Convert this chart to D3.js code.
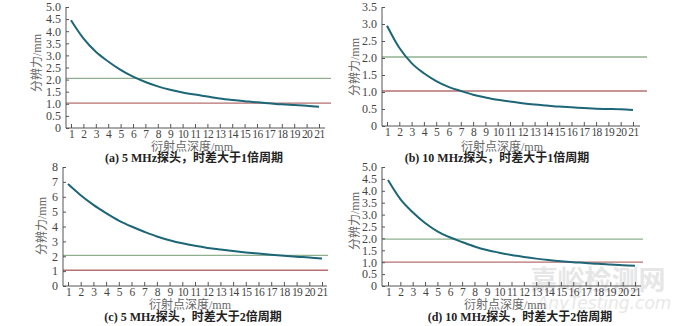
<!DOCTYPE html>
<html><head><meta charset="utf-8">
<script src="https://cdn.jsdelivr.net/npm/d3@7"></script>
<style>
body{margin:0;background:#fff;}
svg{display:block;}
text{font-family:"Liberation Serif","DejaVu Serif",serif;}
.cjk{font-family:"Liberation Serif","Noto Sans CJK SC",serif;}
</style></head>
<body>
<svg id="c" width="680" height="326"></svg>
<script>
const depths = d3.range(1, 22);
const resA = [4.45,3.7,3.15,2.75,2.4,2.12,1.9,1.72,1.58,1.47,1.38,1.3,1.22,1.16,1.11,1.06,1.02,0.98,0.95,0.92,0.88];
const resB = [2.95,2.3,1.85,1.55,1.32,1.15,1.03,0.92,0.84,0.77,0.72,0.67,0.63,0.6,0.57,0.55,0.53,0.51,0.5,0.49,0.47];
const resC = [6.85,6.1,5.45,4.9,4.4,4.0,3.65,3.33,3.08,2.87,2.7,2.56,2.45,2.35,2.26,2.18,2.1,2.03,1.97,1.92,1.85];
const resD = [4.45,3.65,3.1,2.65,2.3,2.05,1.85,1.66,1.51,1.4,1.3,1.22,1.15,1.09,1.04,1.0,0.97,0.93,0.9,0.87,0.85];
const greenLevels = [2.05, 2.03, 2.06, 1.97];
const redLevels = [1.03, 1.03, 1.06, 1.0];
const yTicksA = [0,0.5,1.0,1.5,2.0,2.5,3.0,3.5,4.0,4.5,5.0];
const yTicksB = [0,0.5,1.0,1.5,2.0,2.5,3.0,3.5];
const yTicksC = [0,1,2,3,4,5,6,7,8];
const yTicksD = [0,0.5,1.0,1.5,2.0,2.5,3.0,3.5,4.0,4.5,5.0];
const captions = ["(a) 5 MHz探头，时差大于1倍周期","(b)  10 MHz探头，时差大于1倍周期","(c) 5 MHz探头，时差大于2倍周期","(d)  10 MHz探头，时差大于2倍周期"];
const yTitle = "分辨力/mm";
const xTitle = "衍射点深度/mm";

const panels = [
  {vals:resA, ticks:yTicksA, fmt:d=>d===0?"0":d.toFixed(1), ymax:5, axX:66, x1:71, x21:319, axEnd:325, lineEnd:331, y0:128, yTop:7, ytX:37, ytY:63, xtX:192, xtY:147, capX:194, capY:158},
  {vals:resB, ticks:yTicksB, fmt:d=>d===0?"0":d.toFixed(1), ymax:3.5, axX:382, x1:387, x21:633, axEnd:640, lineEnd:647, y0:126, yTop:7, ytX:355, ytY:67, xtX:502, xtY:147, capX:497, capY:158},
  {vals:resC, ticks:yTicksC, fmt:d=>String(d), ymax:8, axX:63, x1:68, x21:322, axEnd:327, lineEnd:328, y0:286, yTop:167, ytX:42, ytY:226, xtX:190, xtY:305, capX:193, capY:317},
  {vals:resD, ticks:yTicksD, fmt:d=>d===0?"0":d.toFixed(1), ymax:5, axX:382, x1:388, x21:635, axEnd:641, lineEnd:643, y0:286, yTop:167, ytX:355, ytY:221, xtX:505, xtY:305, capX:520, capY:317}
];

const svg = d3.select("#c");
const axisCol = "#555";

// watermark
svg.append("text").attr("class","cjk").attr("x",598).attr("y",290).attr("text-anchor","middle")
  .attr("font-size",27).attr("fill","#e6e6e6").attr("font-weight","bold").text("嘉峪检测网");
svg.append("text").attr("x",604).attr("y",309).attr("text-anchor","middle")
  .attr("font-size",17).attr("fill","#e8e8e8").attr("font-style","italic")
  .style("font-family","DejaVu Sans, sans-serif").text("AnyTesting.com");

panels.forEach((p,i)=>{
  const g = svg.append("g");
  const x = d3.scaleLinear().domain([1,21]).range([p.x1,p.x21]);
  const y = d3.scaleLinear().domain([0,p.ymax]).range([p.y0,p.yTop]);

  g.append("line").attr("x1",p.axX).attr("x2",p.lineEnd).attr("y1",y(greenLevels[i])).attr("y2",y(greenLevels[i]))
    .attr("stroke","#8fb08f").attr("stroke-width",1.3);
  g.append("line").attr("x1",p.axX).attr("x2",p.lineEnd).attr("y1",y(redLevels[i])).attr("y2",y(redLevels[i]))
    .attr("stroke","#b5716f").attr("stroke-width",1.3);

  const line = d3.line().x((d,k)=>x(depths[k])).y(d=>y(d)).curve(d3.curveMonotoneX);
  g.append("path").datum(p.vals).attr("d",line).attr("fill","none")
    .attr("stroke","#1d6677").attr("stroke-width",2);

  const ya = d3.axisLeft(y).tickValues(p.ticks).tickFormat(p.fmt).tickSize(-3).tickPadding(5);
  const yg = g.append("g").attr("transform",`translate(${p.axX},0)`).call(ya);
  yg.select(".domain").remove();
  g.append("line").attr("x1",p.axX).attr("x2",p.axX).attr("y1",p.yTop).attr("y2",p.y0).attr("stroke",axisCol);
  const xa = d3.axisBottom(x).tickValues(depths).tickFormat(d3.format("d")).tickSize(-4).tickPadding(2);
  const xg = g.append("g").attr("transform",`translate(0,${p.y0})`).call(xa);
  xg.select(".domain").remove();
  g.append("line").attr("x1",p.axX).attr("x2",p.axEnd).attr("y1",p.y0).attr("y2",p.y0).attr("stroke",axisCol);
  [yg,xg].forEach(a=>{
    a.selectAll("line").attr("stroke",axisCol);
    a.selectAll("text").attr("fill","#444").attr("font-size",12)
      .style("font-family","Liberation Serif, DejaVu Serif, serif");
  });
  xg.selectAll("text").attr("font-size",11.5).attr("letter-spacing",-0.6);

  g.append("text").attr("class","cjk").attr("transform",`translate(${p.ytX},${p.ytY}) rotate(-90)`)
    .attr("text-anchor","middle").attr("dominant-baseline","central").attr("font-size",12).attr("fill","#666").text(yTitle);
  g.append("text").attr("class","cjk").attr("x",p.xtX).attr("y",p.xtY).attr("text-anchor","middle")
    .attr("dominant-baseline","central").attr("font-size",12).attr("fill","#666").text(xTitle);
  g.append("text").attr("class","cjk").attr("x",p.capX).attr("y",p.capY).attr("text-anchor","middle")
    .attr("dominant-baseline","central").attr("font-size",12).attr("font-weight","bold").attr("fill","#222").text(captions[i]);
});
</script>
</body></html>
